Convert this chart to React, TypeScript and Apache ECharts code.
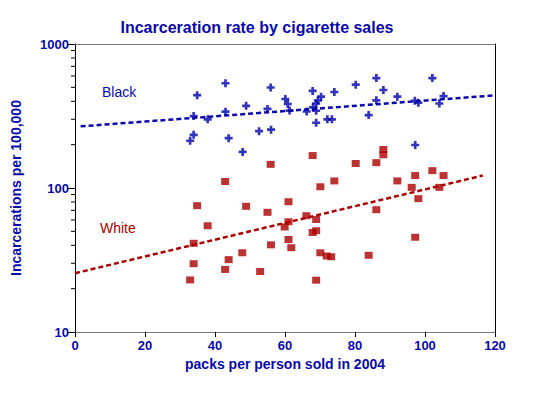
import React, { useEffect, useRef } from "react";
import * as echarts from "echarts";

const TITLE = "Incarceration rate by cigarette sales";
const X_NAME = "packs per person sold in 2004";
const Y_NAME = "Incarcerations per 100,000";

// Black: [packs per person, incarcerations per 100,000]
const blackPoints: [number, number][] = [
  [32.9, 213], [33.9, 234], [34.9, 441], [33.9, 316], [37.9, 300],
  [43.0, 534], [43.0, 339], [43.9, 222], [47.9, 178], [48.9, 372],
  [52.6, 248], [55.9, 499], [56.0, 254], [55.0, 354], [60.1, 415],
  [60.8, 383], [61.3, 345], [67.9, 472], [70.3, 431], [69.4, 405],
  [68.9, 386], [68.0, 363], [68.9, 344], [66.2, 340], [68.9, 284],
  [72.1, 300], [73.4, 300], [74.1, 464], [80.2, 522], [86.1, 580],
  [88.1, 479], [86.1, 406], [83.9, 321], [92.1, 431], [97.1, 403],
  [98.1, 391], [102.1, 580], [105.3, 435], [104.1, 386], [97.2, 199],
];

const whitePoints: [number, number][] = [
  [42.9, 111], [55.9, 146], [34.9, 75.4], [48.9, 74.6], [55.0, 67.8],
  [37.9, 54.7], [33.9, 41.3], [56.0, 40.3], [47.8, 35.5], [43.9, 31.8],
  [33.9, 29.8], [42.9, 27.2], [52.9, 26.3], [32.9, 23.0], [67.9, 168],
  [80.2, 148], [86.1, 150], [88.1, 185], [88.1, 170], [74.1, 112],
  [70.1, 102], [61.0, 80.3], [66.1, 64.2], [68.9, 60.4], [61.0, 58.3],
  [59.9, 53.6], [68.9, 50.5], [67.9, 49.1], [61.0, 43.9], [61.8, 38.5],
  [70.1, 35.5], [71.9, 33.7], [73.2, 33.3], [68.9, 22.9], [97.2, 122],
  [102.1, 132], [105.3, 122], [92.1, 112], [96.2, 101], [104.1, 101],
  [98.1, 84.3], [86.1, 70.7], [97.2, 45.5], [83.9, 34.1],
];

const blackTrend: [number, number][] = [[1.6, 268], [120, 440]];
const whiteTrend: [number, number][] = [[0, 25.6], [116.5, 122]];

const xTicks = [0, 20, 40, 60, 80, 100, 120];
const yTicks = [10, 100, 1000];
const yMinorTicks = [20, 30, 40, 50, 60, 70, 80, 90, 200, 300, 400, 500, 600, 700, 800, 900];

const BLUE = "#0a0aa8";
const RED = "#aa0000";
const FONT = "'Liberation Sans', Arial, sans-serif";

export default function App() {
  const ref = useRef<HTMLDivElement>(null);
  useEffect(() => {
    if (!ref.current) return;
    const chart = echarts.init(ref.current, undefined, { renderer: "svg" });
    chart.setOption({
      animation: false,
      backgroundColor: "#ffffff",
      title: {
        text: TITLE,
        left: 252,
        textAlign: "center",
        top: 14,
        textStyle: { color: BLUE, fontSize: 16, fontWeight: "bold", fontFamily: FONT },
      },
      grid: { left: 75, top: 44, width: 420, height: 288 },
      xAxis: [
        {
          type: "value",
          min: xTicks[0],
          max: xTicks[xTicks.length - 1],
          interval: 20,
          name: X_NAME,
          nameLocation: "middle",
          nameGap: 23,
          nameTextStyle: { color: BLUE, fontSize: 14, fontWeight: "bold", fontFamily: FONT },
          axisLine: { show: true, lineStyle: { color: "#777", width: 1 } },
          axisTick: { show: true, length: 5, lineStyle: { color: "#000" } },
          axisLabel: { color: BLUE, fontSize: 13, fontWeight: "bold", fontFamily: FONT, margin: 7 },
          splitLine: { show: false },
        },
        {
          type: "value",
          position: "top",
          min: 0,
          max: 120,
          axisLine: { show: true, onZero: false, lineStyle: { color: "#777", width: 1 } },
          axisTick: { show: false },
          axisLabel: { show: false },
          splitLine: { show: false },
        },
      ],
      yAxis: [
        {
          type: "log",
          logBase: 10,
          min: yTicks[0],
          max: yTicks[yTicks.length - 1],
          name: Y_NAME,
          nameLocation: "middle",
          nameGap: 52,
          nameTextStyle: { color: BLUE, fontSize: 14, fontWeight: "bold", fontFamily: FONT },
          axisLine: { show: true, lineStyle: { color: "#000", width: 1 } },
          axisTick: { show: true, length: 7, lineStyle: { color: "#000" } },
          minorTick: { show: false },
          axisLabel: {
            color: BLUE,
            fontSize: 13,
            fontWeight: "bold",
            fontFamily: FONT,
            margin: 6,
            formatter: (v: number) => String(Math.round(v)),
          },
          splitLine: { show: false },
        },
        {
          type: "value",
          position: "right",
          min: 0,
          max: 1,
          axisLine: { show: true, onZero: false, lineStyle: { color: "#000", width: 1 } },
          axisTick: { show: false },
          axisLabel: { show: false },
          splitLine: { show: false },
        },
      ],
      graphic: [
        {
          type: "text",
          left: 102,
          top: 85,
          style: { text: "Black", fill: BLUE, font: `14px ${FONT}` },
        },
        {
          type: "text",
          left: 100,
          top: 221,
          style: { text: "White", fill: RED, font: `14px ${FONT}` },
        },
      ],
      series: [
        {
          type: "custom",
          xAxisIndex: 0,
          yAxisIndex: 0,
          clip: false,
          silent: true,
          data: yMinorTicks.map((v) => [xTicks[0], v]),
          renderItem: (params: any, api: any) => {
            const p = api.coord([api.value(0), api.value(1)]);
            return {
              type: "line",
              shape: { x1: p[0] - 4, y1: p[1], x2: p[0], y2: p[1] },
              style: { stroke: "#000", lineWidth: 1 },
            };
          },
          z: 3,
        },
        {
          type: "line",
          data: blackTrend,
          symbol: "none",
          lineStyle: { color: BLUE, width: 2.5, type: [5, 3] },
          z: 1,
        },
        {
          type: "line",
          data: whiteTrend,
          symbol: "none",
          lineStyle: { color: RED, width: 2.5, type: [5, 3] },
          z: 1,
        },
        {
          type: "scatter",
          data: blackPoints,
          symbol: "path://M3,0h3v3h3v3h-3v3h-3v-3h-3v-3h3z",
          symbolSize: 8,
          itemStyle: { color: "#0000aa" },
          z: 2,
        },
        {
          type: "scatter",
          data: whitePoints,
          symbol: "rect",
          symbolSize: [8, 7],
          itemStyle: { color: RED },
          z: 2,
        },
      ],
    });
    return () => chart.dispose();
  }, []);
  return (
    <div
      ref={ref}
      style={{ position: "fixed", left: 0, top: 0, width: 550, height: 395, background: "#fff" }}
    />
  );
}
